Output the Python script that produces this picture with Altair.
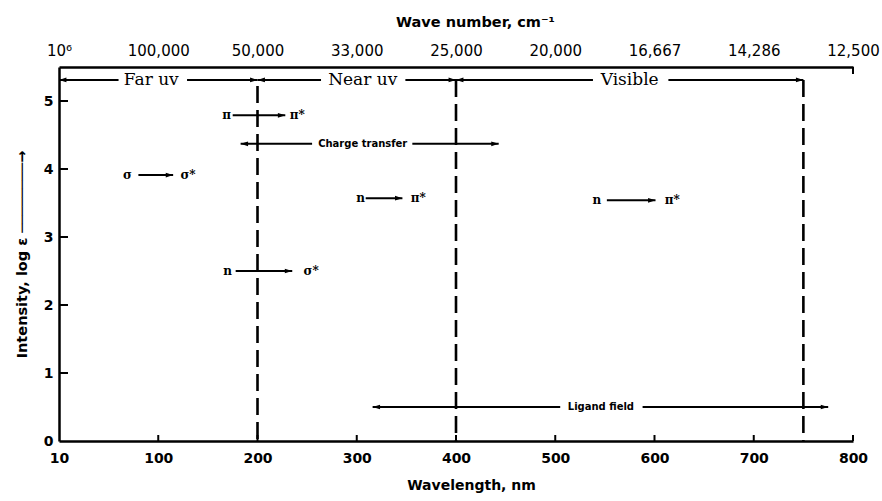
import altair as alt
import pandas as pd

# ---------------- data ----------------
wavelength_ticks = [0, 100, 200, 300, 400, 500, 600, 700, 800]
wavelength_labels = ["10", "100", "200", "300", "400", "500", "600", "700", "800"]
wavenumber_labels = ["10⁶", "100,000", "50,000", "33,000", "25,000",
                     "20,000", "16,667", "14,286", "12,500"]
intensity_ticks = [0, 1, 2, 3, 4, 5]
inner_x_ticks = [100, 200, 300, 400, 500, 600, 700, 800]
inner_y_ticks = [1, 2, 3, 4, 5]

# dashed region boundaries (nm) and their top (log e)
boundary_nm = [200, 400, 750]
boundary_top = [5.22, 5.31, 5.31]

# spectral regions band
regions = ["Far uv", "Near uv", "Visible"]
region_start = [0, 200, 400]
region_end = [200, 400, 750]
region_label_nm = [93, 306, 575]
region_level = [5.31, 5.31, 5.31]
region_seg_start = [0, 129, 200, 349, 400, 614]
region_seg_end = [60, 200, 264, 400, 538, 750]
region_seg_level = [5.31, 5.31, 5.31, 5.31, 5.31, 5.31]

# electronic transitions
trans_from = ["π", "σ", "n", "n", "n"]
trans_to = ["π*", "σ*", "π*", "σ*", "π*"]
trans_level = [4.79, 3.91, 3.57, 2.50, 3.54]
trans_from_nm = [169, 69, 304, 170, 542]
trans_arrow_start = [175, 80, 309, 178, 552]
trans_arrow_end = [228, 115, 346, 235, 601]
trans_to_nm = [240, 130, 362, 254, 618]

# broad double-headed bands
bands = ["Charge transfer", "Ligand field"]
band_start = [183, 316]
band_end = [443, 775]
band_label_nm = [306, 546]
band_level = [4.37, 0.50]
band_seg_start = [183, 356, 316, 588]
band_seg_end = [255, 443, 505, 775]
band_seg_level = [4.37, 4.37, 0.50, 0.50]

# ---------------- helpers ----------------
W, H = 794, 374
x_scale = alt.Scale(domain=[0, 800], nice=False, zero=False)
y_scale = alt.Scale(domain=[0, 5.5], nice=False, zero=False)


def label_expr(values, labels):
    expr = "''"
    for v, l in reversed(list(zip(values, labels))):
        expr = f"datum.value == {v} ? '{l}' : ({expr})"
    return expr


def X(field):
    return alt.X(f"{field}:Q", scale=x_scale, axis=None)


def Y(field):
    return alt.Y(f"{field}:Q", scale=y_scale, axis=None)


boundary_df = pd.DataFrame({"nm": boundary_nm, "top": boundary_top,
                            "bottom": [0, 0, 0]})

base = alt.Chart(boundary_df).mark_rule(
    color="black", strokeWidth=2.6, strokeDash=[17, 7]
).encode(
    x=alt.X("nm:Q", scale=x_scale, axis=alt.Axis(
        orient="bottom", values=wavelength_ticks,
        labelExpr=label_expr(wavelength_ticks, wavelength_labels),
        title="Wavelength, nm", tickSize=0, labelPadding=10,
        titlePadding=13, titleX=412, titleFontSize=14)),
    y=alt.Y("top:Q", scale=y_scale, axis=alt.Axis(
        orient="left", values=intensity_ticks, format="d",
        title="Intensity, log ε  ────────→", tickSize=0, labelPadding=6,
        titlePadding=14, titleFontSize=14.5)),
    y2="bottom:Q",
)

# top axis carrier + right end tick
top_df = pd.DataFrame({"nm": [800]})
top_axis = alt.Chart(top_df).mark_rule(color="black", strokeWidth=2).encode(
    x=alt.X("nm:Q", scale=x_scale, axis=alt.Axis(
        orient="top", values=wavelength_ticks,
        labelExpr=label_expr(wavelength_ticks, wavenumber_labels),
        title="Wave number, cm⁻¹", tickSize=0, labelPadding=9,
        titlePadding=14, titleX=416, titleFontSize=14.5,
        labelFont="DejaVu Sans", labelFontWeight="normal", labelFontSize=15)),
    y=alt.value(0), y2=alt.value(7),
)

xt_df = pd.DataFrame({"nm": inner_x_ticks})
x_inner = alt.Chart(xt_df).mark_rule(color="black", strokeWidth=2).encode(
    x=X("nm"), y=alt.value(H), y2=alt.value(H - 6))

yt_df = pd.DataFrame({"v": inner_y_ticks})
y_inner = alt.Chart(yt_df).mark_rule(color="black", strokeWidth=2).encode(
    y=Y("v"), x=alt.value(0), x2=alt.value(9))

# segments (region band + broad bands + transition arrows)
seg_df = pd.DataFrame({
    "a": region_seg_start + band_seg_start + trans_arrow_start,
    "b": region_seg_end + band_seg_end + trans_arrow_end,
    "lvl": region_seg_level + band_seg_level + trans_level,
})
segments = alt.Chart(seg_df).mark_rule(color="black", strokeWidth=2).encode(
    x=X("a"), x2="b:Q", y=Y("lvl"))

# arrowheads
right_path = "M0,0 L-1,-0.32 L-1,0.32 Z"
left_path = "M0,0 L1,-0.32 L1,0.32 Z"
head_df = pd.DataFrame({
    "nm": region_start + region_end + band_start + band_end + trans_arrow_end,
    "lvl": region_level + region_level + band_level + band_level + trans_level,
    "dir": (["left"] * len(region_start) + ["right"] * len(region_end)
            + ["left"] * len(band_start) + ["right"] * len(band_end)
            + ["right"] * len(trans_arrow_end)),
})
heads = alt.Chart(head_df).mark_point(
    filled=True, color="black", opacity=1, size=220, strokeWidth=0
).encode(
    x=X("nm"), y=Y("lvl"),
    shape=alt.Shape("dir:N", scale=alt.Scale(domain=["left", "right"],
                                             range=[left_path, right_path]),
                    legend=None),
)

region_df = pd.DataFrame({"name": regions, "nm": region_label_nm,
                          "lvl": region_level})
region_text = alt.Chart(region_df).mark_text(
    font="DejaVu Serif", fontSize=17, color="black", baseline="middle"
).encode(x=X("nm"), y=Y("lvl"), text="name:N")

band_df = pd.DataFrame({"name": bands, "nm": band_label_nm, "lvl": band_level})
band_text = alt.Chart(band_df).mark_text(
    font="DejaVu Sans", fontSize=10, fontWeight="bold", color="black",
    baseline="middle"
).encode(x=X("nm"), y=Y("lvl"), text="name:N")

tr_df = pd.DataFrame({
    "sym": trans_from + trans_to,
    "nm": trans_from_nm + trans_to_nm,
    "lvl": trans_level + trans_level,
})
tr_text = alt.Chart(tr_df).mark_text(
    font="DejaVu Serif", fontSize=12, fontWeight="bold", color="black",
    baseline="middle"
).encode(x=X("nm"), y=Y("lvl"), text="sym:N")

chart = alt.layer(
    base, top_axis, x_inner, y_inner, segments, heads,
    region_text, band_text, tr_text
).resolve_axis(x="independent", y="independent").properties(
    width=W, height=H,
    autosize=alt.AutoSizeParams(type="none"),
    padding={"left": 59, "top": 67, "right": 29, "bottom": 60},
    background="white",
).configure_view(strokeWidth=0).configure_axis(
    grid=False, domainColor="black", domainWidth=2.5,
    labelFont="DejaVu Sans", labelFontWeight="bold", labelFontSize=14,
    labelColor="black", titleFont="DejaVu Sans", titleFontWeight="bold",
    titleFontSize=13, titleColor="black", labelFlush=False,
)

chart.save("out.html", embed_options={"renderer": "svg", "actions": False})
